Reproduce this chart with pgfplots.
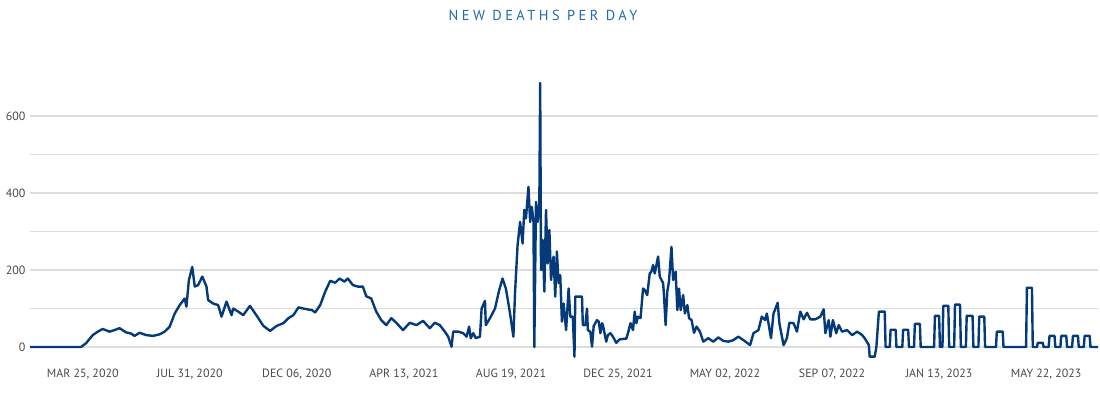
\documentclass[border=0pt]{standalone}
\usepackage{fontspec}
\setmainfont{PT Sans}
\newfontfamily\titlefont[LetterSpace=24]{PT Sans}
\usepackage{pgfplots}
\pgfplotsset{compat=1.18}
\definecolor{navy}{HTML}{053A7A}
\definecolor{titleblue}{HTML}{2269B0}
\definecolor{gridgray}{HTML}{DDDDDD}
\definecolor{ticktext}{HTML}{4A4A4A}
\begin{document}
\begin{tikzpicture}
\path[use as bounding box] (0,0) rectangle (1100bp,394bp);
\node[font=\titlefont\fontsize{14.5}{16}\selectfont, text=titleblue] at (543bp,379bp) {NEW DEATHS PER DAY};
\begin{axis}[
  at={(30bp,35.4bp)}, anchor=south west,
  scale only axis, width=1068bp, height=281.1bp,
  xmin=-63, xmax=1214, ymin=-30, ymax=700,
  axis line style={draw=none},
  major tick length=0pt,
  ytick={0,100,200,300,400,500,600},
  yticklabels={0,,200,,400,,600},
  ymajorgrids, grid style={gridgray, line width=1.2bp},
  xtick={0,128,256,384,512,640,768,896,1024,1152},
  xticklabels={{MAR 25, 2020},{JUL 31, 2020},{DEC 06, 2020},{APR 13, 2021},{AUG 19, 2021},{DEC 25, 2021},{MAY 02, 2022},{SEP 07, 2022},{JAN 13, 2023},{MAY 22, 2023}},
  tick label style={font=\fontsize{12}{14}\selectfont, text=ticktext},
  yticklabel style={xshift=-1bp},
  xticklabel style={yshift=-7bp},
  /pgf/number format/assume math mode=true,
]
\addplot[navy, line width=2.4bp, line join=round, mark=none] coordinates {
(-63,0) (-2,0) (4,10) (12,31) (18,40) (24,47) (32,40) (38,44) (44,49) (52,38) (58,35) (62,29) (68,37) (76,31) (84,29) (92,33) (98,40) (104,53) (110,87) (116,109) (122,126) (124,105) (127,174) (131,208) (134,157) (138,161) (143,183) (148,157) (150,122) (156,113) (162,109) (166,79) (172,118) (178,83) (180,100) (186,92) (192,83) (200,107) (206,88) (210,75) (216,55) (224,42) (232,55) (240,62) (246,75) (252,83) (258,103) (266,99) (274,96) (278,90) (284,109) (290,144) (296,172) (302,167) (307,178) (313,170) (317,178) (323,161) (329,157) (335,157) (339,132) (345,126) (351,92) (357,70) (363,57) (369,75) (375,63) (383,44) (391,63) (399,57) (407,68) (415,49) (421,63) (427,57) (433,40) (437,27) (441,1) (443,40) (449,40) (455,36) (459,27) (462,53) (464,23) (467,36) (470,23) (475,27) (477,100) (481,120) (482,57) (487,75) (493,100) (498,148) (502,178) (506,152) (511,87) (515,27) (517,144) (520,265) (523,325) (526,269) (528,356) (530,334) (533,416) (535,325) (537,364) (539,325) (540,0) (542,377) (544,325) (546,374) (547,686) (548,200) (550,278) (552,144) (554,356) (556,217) (558,304) (560,174) (563,235) (565,131) (567,248) (569,166) (571,187) (573,66) (575,113) (578,44) (581,152) (583,79) (586,79) (588,-25) (589,131) (597,131) (598,57) (601,57) (603,100) (604,44) (607,40) (609,1) (611,55) (615,70) (617,66) (619,36) (621,62) (622,57) (626,14) (628,31) (631,36) (634,27) (638,11) (642,20) (650,22) (652,36) (655,62) (658,44) (660,92) (662,62) (664,79) (667,75) (670,152) (672,148) (675,135) (678,191) (680,196) (682,213) (684,191) (688,235) (690,183) (694,166) (695,135) (697,57) (699,144) (701,170) (704,260) (706,174) (709,196) (711,96) (713,152) (715,96) (718,135) (720,87) (723,109) (725,75) (728,70) (731,37) (734,53) (738,40) (742,14) (748,23) (754,14) (760,25) (766,16) (772,14) (778,18) (784,27) (790,18) (798,5) (802,36) (808,44) (812,79) (816,70) (818,87) (823,23) (826,87) (831,115) (833,62) (838,5) (842,23) (845,63) (850,62) (854,40) (858,92) (862,72) (866,89) (870,72) (876,72) (882,79) (886,98) (888,36) (892,70) (894,27) (897,70) (901,36) (904,57) (908,40) (914,44) (920,31) (926,40) (932,31) (935,23) (940,5) (941,-25) (947,-25) (949,0) (952,92) (959,92) (960,0) (965,0) (966,45) (972,45) (973,0) (980,0) (981,45) (987,45) (988,0) (994,0) (995,60) (1001,60) (1002,0) (1018,0) (1019,81) (1024,81) (1025,0) (1028,0) (1029,107) (1035,107) (1036,0) (1042,0) (1043,110) (1049,110) (1050,0) (1056,0) (1057,81) (1064,81) (1065,0) (1071,0) (1072,79) (1078,79) (1079,0) (1092,0) (1093,40) (1100,40) (1101,0) (1128,0) (1129,154) (1135,154) (1136,0) (1141,0) (1142,11) (1148,11) (1149,0) (1155,0) (1156,29) (1162,29) (1163,0) (1169,0) (1170,29) (1176,29) (1177,0) (1183,0) (1184,29) (1190,29) (1191,0) (1197,0) (1198,29) (1204,29) (1205,0) (1214,0)
};
\end{axis}
\end{tikzpicture}
\end{document}
